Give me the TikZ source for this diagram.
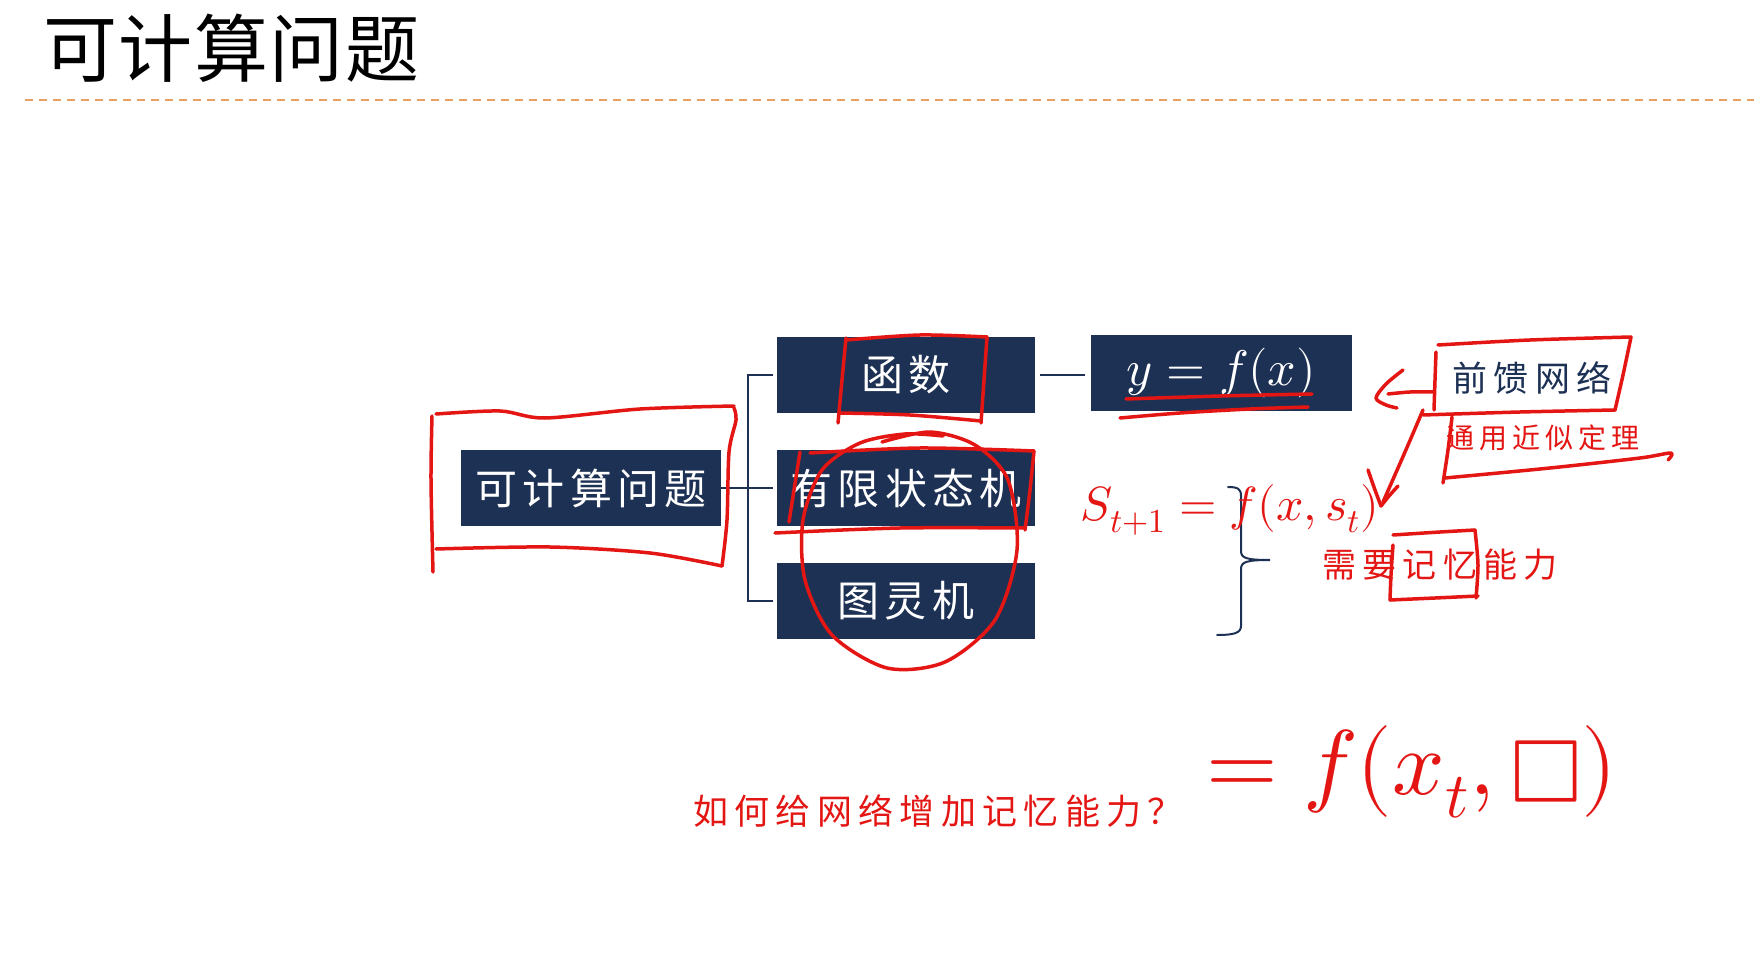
\documentclass[tikz,border=0pt]{standalone}
\usepackage{unicode-math}
\newfontfamily\cjk[LetterSpace=2]{Noto Sans CJK SC}
\newfontfamily\cjkbox[LetterSpace=12]{Noto Sans CJK SC}
\newfontfamily\cjkmid[LetterSpace=18]{Noto Sans CJK SC}
\definecolor{navy}{RGB}{29,49,84}
\definecolor{ink}{RGB}{228,22,20}
\definecolor{dashcol}{RGB}{230,160,100}
\begin{document}
\begin{tikzpicture}[x=1pt,y=-1pt,
  navybox/.style={fill=navy,text=white,minimum width=258pt,minimum height=76pt,inner sep=0pt,
    font=\cjkbox\fontsize{42}{46}\selectfont},
  link/.style={draw=navy,line width=2.8pt},
  ink/.style={draw=ink,line width=3.5pt,line cap=round,line join=round},
  inktext/.style={text=ink,inner sep=0pt}]
\fill[white] (0,0) rectangle (1754,968);
\useasboundingbox (0,0) rectangle (1754,968);

% title and dashed rule
\node[anchor=west,inner sep=0pt] (title) at (43,48) {\cjk\fontsize{74}{80}\selectfont 可计算问题};
\coordinate (dl) at (25,100);
\coordinate (dr) at (1754,100);
\draw[dashcol,line width=2pt,dash pattern=on 8pt off 6pt] (dl) -- (dr);

% boxes
\node[navybox,minimum width=260pt] (A) at (591,488) {可计算问题};
\node[navybox] (B) at (906,375) {函数};
\node[navybox] (C) at (906,488) {有限状态机};
\node[navybox] (D) at (906,601) {图灵机};
\node[navybox,minimum width=261pt,font=\fontsize{50}{56}\selectfont] (E) at (1221,373) {$y=f(x)$};

% connectors
\coordinate (j) at (748,488);
\draw[link] (A.east) -- (j);
\draw[link] ([xshift=-4]B.west) -- (B.west -| j) -- (D.west -| j) -- ([xshift=-4]D.west);
\draw[link] (j) -- ([xshift=-4]C.west);
\draw[link] ([xshift=5]B.east) -- ([xshift=-5]E.west |- B.east);

% brace
\draw[navy,line width=2pt,line cap=round]
  (1228,487) .. controls (1238,487) and (1241,489) .. (1241,496) -- (1241,551)
  .. controls (1241,558) and (1246,560) .. (1270,560)
  .. controls (1246,560) and (1241,562) .. (1241,569) -- (1241,626)
  .. controls (1241,633) and (1234,635) .. (1217,635);

% feedforward label
\node[inner sep=0pt,text=navy,font=\cjkmid\fontsize{35}{40}\selectfont] (F) at (1532,378) {前馈网络};

% ---------- red annotations ----------
% box around A
\draw[ink] plot[smooth] coordinates {(432,416) (431,480) (433,572)};
\draw[ink] plot[smooth] coordinates {(436,414) (500,411) (545,418) (640,409) (734,406)};
\draw[ink] plot[smooth] coordinates {(734,408) (736,420) (729,452) (727,520) (722,566)};
\draw[ink] plot[smooth] coordinates {(436,549) (550,547) (650,553) (722,566)};
% box around 函数
\draw[ink] plot[smooth] coordinates {(846,338) (842,380) (838,423)};
\draw[ink] plot[smooth] coordinates {(846,340) (920,335) (987,337)};
\draw[ink] plot[smooth] coordinates {(987,337) (984,380) (981,423)};
\draw[ink] plot[smooth] coordinates {(840,413) (910,415) (981,421)};
% box around 有限状态机
\draw[ink] plot[smooth] coordinates {(800,452) (794,490) (789,522)};
\draw[ink] plot[smooth] coordinates {(810,453) (920,448) (1034,451)};
\draw[ink] plot[smooth] coordinates {(1034,451) (1030,490) (1025,530)};
\draw[ink] plot[smooth] coordinates {(775,533) (900,528) (1025,528)};
% ellipse around C and D
\draw[ink] plot[smooth] coordinates {(943,436) (905,434) (860,443) (822,470) (803,520) (805,580) (832,635) (887,668) (945,662) (995,620) (1017,550) (1008,480) (975,445) (930,432) (882,442)};
% underline of y=f(x)
\draw[ink] plot[smooth] coordinates {(1126,399) (1220,396) (1312,394)};
\draw[ink] plot[smooth] coordinates {(1120,418) (1180,413) (1250,409) (1308,407)};
% box around 前馈网络
\draw[ink] plot[smooth] coordinates {(1438,345) (1530,340) (1631,337)};
\draw[ink] plot[smooth] coordinates {(1436,352) (1435,380) (1434,410)};
\draw[ink] plot[smooth] coordinates {(1631,337) (1623,375) (1615,410)};
\draw[ink] plot[smooth] coordinates {(1423,415) (1520,412) (1615,410)};
% arrow to y=f(x)
\draw[ink] plot[smooth] coordinates {(1434,392) (1410,392) (1388,394)};
\draw[ink] plot[smooth] coordinates {(1403,370) (1386,384) (1376,398) (1386,405) (1397,408)};
% universal approximation
\node[inktext,font=\cjkmid\fontsize{28}{32}\selectfont] (U) at (1543,438) {通用近似定理};
\draw[ink] plot[smooth] coordinates {(1452,417) (1448,450) (1443,483)};
\draw[ink] plot[smooth] coordinates {(1445,478) (1550,468) (1640,458) (1671,453) (1668,460)};
% down arrow
\draw[ink] plot[smooth] coordinates {(1423,410) (1405,452) (1383,502)};
\draw[ink] plot[smooth] coordinates {(1368,470) (1375,490) (1381,506)};
\draw[ink] plot[smooth] coordinates {(1398,486) (1389,496) (1381,506)};
% formula s_{t+1}
\node[inktext,font=\fontsize{48}{52}\selectfont] (S) at (1230,510) {$S_{t+1}=f(x,s_t)$};
% need memory
\node[inktext,font=\cjkmid\fontsize{34}{38}\selectfont] (M) at (1440,565) {需要记忆能力};
\draw[ink] plot[smooth] coordinates {(1393,545) (1391,575) (1390,600)};
\draw[ink] plot[smooth] coordinates {(1393,535) (1440,532) (1475,530)};
\draw[ink] plot[smooth] coordinates {(1475,530) (1478,565) (1476,598)};
\draw[ink] plot[smooth] coordinates {(1390,600) (1435,598) (1478,596)};
% question
\node[inktext,font=\cjkmid\fontsize{35}{38}\selectfont] (Q) at (938,811) {如何给网络增加记忆能力？};
\node[inktext,font=\fontsize{92}{100}\selectfont] (G) at (1412,772) {$=f(x_t,\mdlgwhtsquare)$};
\end{tikzpicture}
\end{document}
